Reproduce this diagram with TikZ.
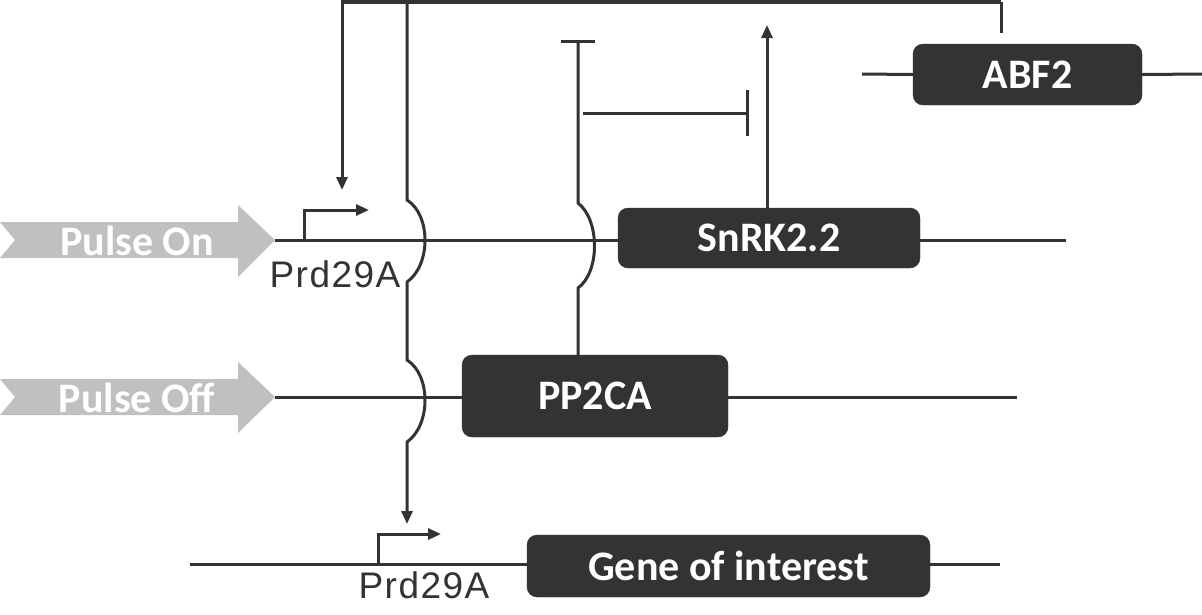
\documentclass[tikz,border=0pt]{standalone}
\usepackage{fontspec}
\setmainfont{Carlito}
\newfontfamily\arialf[LetterSpace=4]{Liberation Sans}
\usetikzlibrary{arrows.meta}
\definecolor{boxc}{HTML}{333333}
\definecolor{pulsec}{HTML}{C0C0C0}
\begin{document}
\begin{tikzpicture}[x=1pt,y=-1pt,
  gene/.style={draw=boxc,fill=boxc,rounded corners=10pt,text=white,font=\bfseries\fontsize{42}{42}\selectfont,inner sep=0pt},
  dna/.style={draw=boxc,line width=3pt},
  link/.style={draw=boxc,line width=3pt},
  arr/.style={-{Triangle[length=13pt,width=11pt]}},
  inh/.style={-{Bar[width=34pt,line width=3pt]}},
  plabel/.style={font=\arialf\fontsize{37}{37}\selectfont,text=boxc,inner sep=0pt},
  pulse/.style={fill=pulsec,draw=none},
  pulsetext/.style={text=white,font=\bfseries\fontsize{42}{42}\selectfont,inner sep=0pt}]
\useasboundingbox (0,0) rectangle (1202,614);

% boxes
\node[gene,minimum width=229pt,minimum height=61pt] (abf) at (1027.5,74.5) {ABF2};
\node[gene,minimum width=302pt,minimum height=60pt] (snrk) at (769,238) {SnRK2.2};
\node[gene,minimum width=266pt,minimum height=82pt] (pp) at (595,396) {PP2CA};
\node[gene,minimum width=403pt,minimum height=62pt] (goi) at (728.5,566) {Gene of interest};

% pulse arrows
\path[pulse] (0,222) -- (238,222) -- (238,205) -- (275,240) -- (238,277) -- (238,258) -- (0,258) -- (15,240) -- cycle;
\node[pulsetext] (pon) at (137,241) {Pulse On};
\path[pulse] (0,379) -- (238,379) -- (238,362) -- (275,397) -- (238,433) -- (238,415) -- (0,415) -- (15,397) -- cycle;
\node[pulsetext] (poff) at (137,398) {Pulse Off};

% DNA lines
\coordinate (a1) at (862,74);
\coordinate (a2) at (1202,74);
\draw[dna] (a1) -- (abf.west);
\draw[dna] (abf.east) -- (a2);
\coordinate (s1) at (275,240);
\coordinate (s2) at (1066,240);
\draw[dna] (s1) -- (snrk.west |- s1);
\draw[dna] (snrk.east |- s1) -- (s2);
\coordinate (p1) at (275,397);
\coordinate (p2) at (1017,397);
\draw[dna] (p1) -- (pp.west |- p1);
\draw[dna] (pp.east |- p1) -- (p2);
\coordinate (g1) at (190,564);
\coordinate (g2) at (1000,564);
\draw[dna] (g1) -- (goi.west |- g1);
\draw[dna] (goi.east |- g1) -- (g2);

% promoters
\coordinate (pr1) at (304,240);
\coordinate (pr1t) at (369,210);
\draw[link,arr] (pr1) |- (pr1t);
\node[plabel] (lab1) at (335,274) {Prd29A};
\coordinate (pr2) at (378,564);
\coordinate (pr2t) at (441,534);
\draw[link,arr] (pr2) |- (pr2t);
\node[plabel] (lab2) at (424,585) {Prd29A};

% ABF2 feedback
\coordinate (tl) at (342,2);
\coordinate (tr) at (1001,2);
\coordinate (ad) at (342,190);
\draw[link,line width=4.5pt] (tl) -- (tr);
\draw[link] (tr) -- (1001,33);
\draw[link,arr] (342,0) -- (ad);

% vertical to gene of interest with hops
\coordinate (v0) at (407,0);
\coordinate (vend) at (407,524);
\draw[link,arr] (v0) -- (407,200) .. controls (431,215) and (431,265) .. (407,282)
  -- (407,360) .. controls (431,375) and (431,425) .. (407,442) -- (vend);

% PP2CA inhibition of SnRK2.2 / ABF2
\coordinate (tb) at (578,40);
\draw[link,inh] (pp.north -| 578,0) -- (578,288) .. controls (600,272) and (600,220) .. (578,203) -- (tb);
\coordinate (hb1) at (583,113);
\coordinate (hb2) at (749,113);
\draw[link,-{Bar[width=46pt,line width=3pt]}] (hb1) -- (hb2);

% SnRK2.2 activation
\coordinate (up) at (767,25);
\draw[link,arr] (snrk.north -| up) -- (up);
\end{tikzpicture}
\end{document}
